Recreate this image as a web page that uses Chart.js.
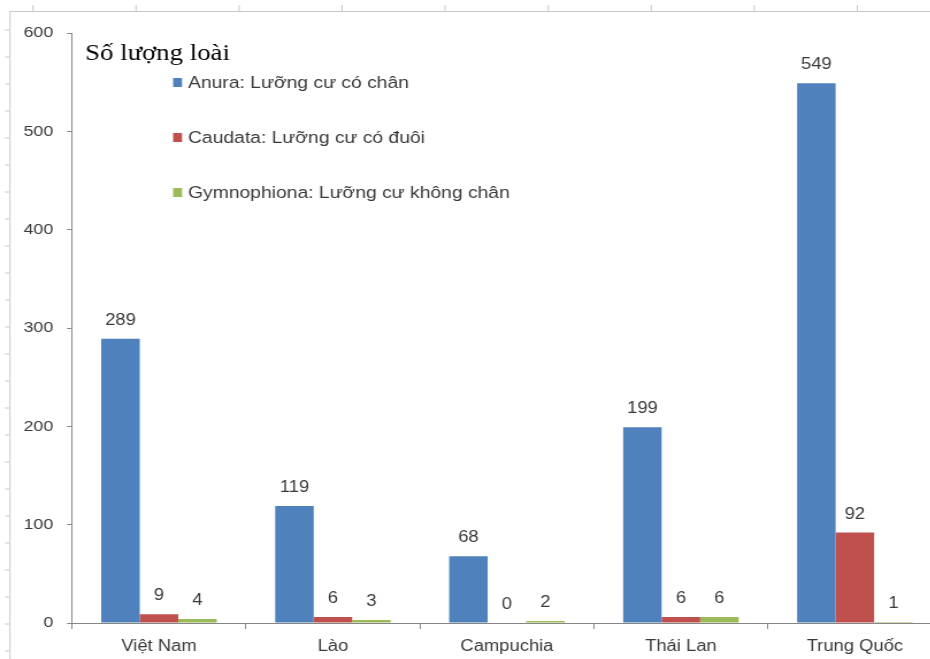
<!DOCTYPE html>
<html>
<head>
<meta charset="utf-8">
<script src="https://cdn.jsdelivr.net/npm/chart.js@4/dist/chart.umd.min.js"></script>
<style>
  html, body { margin: 0; padding: 0; background: #ffffff; overflow: hidden; }
  #wrap { width: 821px; height: 659px; transform: scaleX(1.15); transform-origin: 0 0; }
</style>
</head>
<body>
<div id="wrap"><canvas id="c" width="821" height="659"></canvas></div>
<script>
const countries = ['Việt Nam', 'Lào', 'Campuchia', 'Thái Lan', 'Trung Quốc'];
const anura = [289, 119, 68, 199, 549];
const caudata = [9, 6, 0, 6, 92];
const gymnophiona = [4, 3, 2, 6, 1];
const seriesNames = ['Anura: Lưỡng cư có chân', 'Caudata: Lưỡng cư có đuôi', 'Gymnophiona: Lưỡng cư không chân'];
const yTicks = [0, 100, 200, 300, 400, 500, 600];
const axisTitle = 'Số lượng loài';

const colors = ['#4F81BD', '#C0504D', '#9BBB59'];
const textColor = '#3a3a3a';
const axisColor = '#868686';
const sansFont = '"Liberation Sans", Arial, sans-serif';

// light sheet frame around the chart
const framePlugin = {
  id: 'frame',
  beforeDraw(chart) {
    const ctx = chart.ctx;
    ctx.save();
    ctx.strokeStyle = '#c8c8c8';
    ctx.lineWidth = 1;
    ctx.beginPath();
    ctx.moveTo(8.7, 11.5); ctx.lineTo(chart.width, 11.5);
    ctx.moveTo(8.7, 11.5); ctx.lineTo(8.7, chart.height);
    for (let x = 28.7; x < chart.width; x += 89.6) { ctx.moveTo(x, 11.5); ctx.lineTo(x, 5); }
    for (let y = 30; y < chart.height; y += 27) { ctx.moveTo(8.7, y); ctx.lineTo(4.3, y); }
    ctx.stroke();
    ctx.restore();
  }
};

// value labels above bars, title and legend inside the plot
const labelPlugin = {
  id: 'labels',
  afterDatasetsDraw(chart) {
    const ctx = chart.ctx;
    ctx.save();
    ctx.fillStyle = textColor;
    ctx.font = '16px ' + sansFont;
    ctx.textAlign = 'center';
    ctx.textBaseline = 'alphabetic';
    chart.data.datasets.forEach((ds, i) => {
      chart.getDatasetMeta(i).data.forEach((bar, j) => {
        ctx.fillText(String(ds.data[j]), bar.x, bar.y - 14);
      });
    });

    ctx.textAlign = 'left';
    ctx.fillStyle = '#000000';
    ctx.font = '23.3px "Liberation Serif", "Times New Roman", serif';
    ctx.fillText(axisTitle, 74, 60);

    ctx.font = '16.8px ' + sansFont;
    const rowBase = [88, 143, 198];
    chart.data.datasets.forEach((ds, i) => {
      ctx.fillStyle = ds.backgroundColor;
      ctx.fillRect(150.5, rowBase[i] - 10, 7.8, 9);
      ctx.fillStyle = textColor;
      ctx.fillText(ds.label, 163.5, rowBase[i]);
    });
    ctx.restore();
  }
};

new Chart(document.getElementById('c'), {
  type: 'bar',
  data: {
    labels: countries,
    datasets: [
      { label: seriesNames[0], data: anura, backgroundColor: colors[0] },
      { label: seriesNames[1], data: caudata, backgroundColor: colors[1] },
      { label: seriesNames[2], data: gymnophiona, backgroundColor: colors[2] }
    ]
  },
  options: {
    responsive: false,
    animation: false,
    devicePixelRatio: 1,
    layout: { padding: { top: 33, right: 2, bottom: 0, left: 0 } },
    datasets: { bar: { barPercentage: 1, categoryPercentage: 0.664 } },
    plugins: { legend: { display: false }, tooltip: { enabled: false } },
    scales: {
      x: {
        offset: true,
        grid: { display: true, offset: true, drawOnChartArea: false, tickLength: 6, color: axisColor },
        border: { display: true, color: axisColor, width: 1 },
        ticks: { color: textColor, font: { family: sansFont, size: 16 }, padding: 8, maxRotation: 0 },
        afterFit(scale) { scale.height = 36; }
      },
      y: {
        min: 0,
        max: 600,
        afterBuildTicks(scale) { scale.ticks = yTicks.map(v => ({ value: v })); },
        grid: { display: true, drawOnChartArea: false, tickLength: 4.3, color: axisColor },
        border: { display: true, color: axisColor, width: 1 },
        ticks: { color: textColor, font: { family: sansFont, size: 15.5 }, padding: 12 },
        afterFit(scale) { scale.width = 62.6; }
      }
    }
  },
  plugins: [framePlugin, labelPlugin]
});
</script>
</body>
</html>
